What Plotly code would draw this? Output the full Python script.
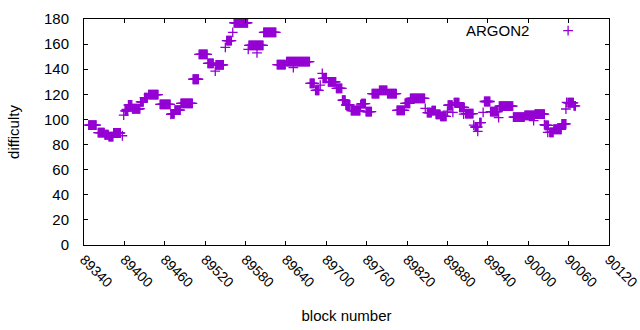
import plotly.graph_objects as go

# Runs of consecutive blocks sharing the same difficulty
run_first_block = [89347, 89361, 89371, 89377, 89384, 89397, 89399, 89401, 89403, 89406,
                   89412, 89424, 89430, 89436, 89453, 89469, 89470, 89475, 89484, 89502,
                   89511, 89524, 89535, 89536, 89550, 89552, 89561, 89563, 89584, 89585,
                   89597, 89607, 89627, 89641, 89651, 89676, 89684, 89691, 89694, 89695,
                   89703, 89715, 89724, 89729, 89737, 89751, 89752, 89759, 89768, 89779,
                   89791, 89805, 89817, 89825, 89847, 89850, 89857, 89863, 89870, 89880,
                   89881, 89888, 89890, 89898, 89904, 89907, 89919, 89921, 89925, 89928,
                   89933, 89935, 89944, 89956, 89957, 89978, 89995, 90008, 90010, 90024,
                   90025, 90029, 90032, 90038, 90050, 90056, 90057, 90059, 90068]
run_last_block = [89358, 89370, 89376, 89383, 89394, 89397, 89399, 89405, 89403, 89411,
                  89423, 89428, 89434, 89450, 89468, 89469, 89474, 89483, 89501, 89510,
                  89523, 89532, 89535, 89547, 89550, 89559, 89561, 89583, 89584, 89606,
                  89597, 89625, 89639, 89675, 89651, 89682, 89689, 89691, 89694, 89700,
                  89714, 89723, 89728, 89735, 89750, 89751, 89758, 89767, 89778, 89790,
                  89804, 89816, 89824, 89846, 89847, 89856, 89862, 89869, 89878, 89880,
                  89887, 89888, 89897, 89905, 89904, 89918, 89919, 89925, 89925, 89930,
                  89933, 89943, 89955, 89956, 89977, 89994, 90009, 90008, 90024, 90024,
                  90030, 90029, 90037, 90049, 90056, 90056, 90057, 90067, 90070]
run_difficulty = [95.5, 89.5, 87.8, 86.3, 89.2, 87.0, 103.5, 106.8, 108.0, 111.5,
                  108.5, 114.0, 117.3, 119.7, 112.0, 104.0, 104.5, 107.5, 112.8, 132.0,
                  151.8, 144.6, 138.5, 143.5, 157.4, 162.7, 169.3, 177.0, 155.8, 159.0,
                  153.0, 169.4, 143.7, 146.1, 141.2, 128.7, 123.2, 127.4, 136.7, 132.7,
                  130.0, 124.8, 115.3, 111.5, 107.0, 111.5, 112.6, 106.3, 120.5, 123.2,
                  120.5, 107.2, 112.8, 116.8, 108.8, 105.4, 107.0, 104.0, 102.5, 106.7,
                  111.3, 105.7, 113.4, 109.6, 104.3, 104.7, 95.5, 94.0, 90.5, 97.5,
                  105.7, 114.3, 106.2, 101.5, 110.6, 101.8, 103.3, 99.0, 104.3, 95.8,
                  95.2, 89.7, 89.7, 92.2, 96.5, 108.3, 113.6, 113.3, 110.8]

x_ticks = [89340, 89400, 89460, 89520, 89580, 89640, 89700, 89760, 89820,
           89880, 89940, 90000, 90060, 90120]
y_ticks = [0, 20, 40, 60, 80, 100, 120, 140, 160, 180]

blocks, diffs = [], []
for a, b, v in zip(run_first_block, run_last_block, run_difficulty):
    for blk in range(a, b + 1):
        blocks.append(blk)
        diffs.append(v)

PURPLE = "#9400D3"
FONT = "Liberation Sans"
marker = dict(symbol="cross-thin", size=7, line=dict(color=PURPLE, width=1.3), color=PURPLE)

fig = go.Figure()
fig.add_trace(go.Scatter(x=blocks, y=diffs, mode="markers", name="ARGON2",
                         marker=marker, showlegend=False))
fig.add_trace(go.Scatter(x=[None], y=[None], mode="markers", name=" ",
                         marker=marker, showlegend=True))

axis_common = dict(showgrid=False, zeroline=False, showline=True, linecolor="black",
                   linewidth=1, mirror="ticks", ticks="inside", ticklen=4,
                   tickcolor="black", automargin=False)

fig.update_layout(
    width=640, height=330,
    margin=dict(l=84, r=31, t=19, b=85),
    paper_bgcolor="white", plot_bgcolor="white",
    font=dict(family=FONT, size=14, color="black"),
    xaxis=dict(range=[89340, 90120], tickvals=x_ticks, ticktext=[str(t) for t in x_ticks],
               tickangle=45, ticklabeloverflow="allow",
               tickfont=dict(family=FONT, size=14, color="black"),
               title=dict(text="block number", standoff=20,
                          font=dict(family=FONT, size=15)), **axis_common),
    yaxis=dict(range=[0, 180], tickvals=y_ticks, ticktext=[str(t) for t in y_ticks],
               ticklabelstandoff=11, tickfont=dict(family=FONT, size=15, color="black"),
               title=dict(text="difficulty", standoff=20,
                          font=dict(family=FONT, size=15)), **axis_common),
    legend=dict(x=0.884, y=1.018, xanchor="left", yanchor="top", bgcolor="rgba(0,0,0,0)",
                font=dict(family=FONT, size=14)),
    annotations=[dict(text="ARGON2", xref="paper", yref="paper", x=0.852, y=0.95,
                      xanchor="right", yanchor="middle", showarrow=False,
                      font=dict(family=FONT, size=15, color="black"))],
)

fig.write_html("out.html", config={"displayModeBar": False},
               post_script="document.body.style.margin='0';")
